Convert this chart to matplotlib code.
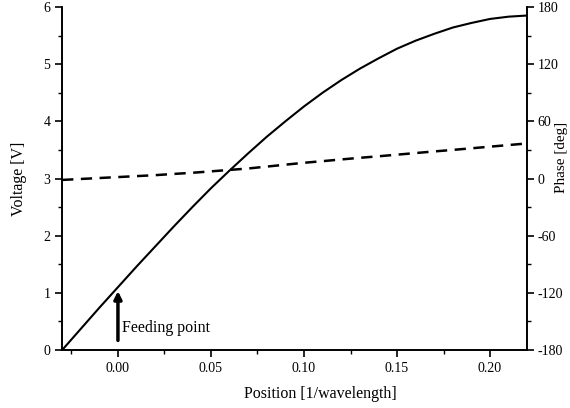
import matplotlib.pyplot as plt
from matplotlib.ticker import MultipleLocator

plt.rcParams['font.family'] = ['Liberation Serif', 'DejaVu Serif']
plt.rcParams['axes.unicode_minus'] = False

# position along the antenna [1/wavelength]
position = [-0.03, -0.02, -0.01, 0.00, 0.01, 0.02, 0.03, 0.04, 0.05, 0.06,
            0.07, 0.08, 0.09, 0.10, 0.11, 0.12, 0.13, 0.14, 0.15, 0.16,
            0.17, 0.18, 0.19, 0.20, 0.21, 0.22]
voltage = [0.0, 0.37, 0.74, 1.10, 1.46, 1.81, 2.16, 2.50, 2.83, 3.14,
           3.44, 3.73, 4.00, 4.26, 4.50, 4.72, 4.92, 5.10, 5.27, 5.41,
           5.53, 5.64, 5.72, 5.79, 5.83, 5.85]
phase = [-1.5, -0.5, 0.5, 1.5, 2.5, 3.5, 4.8, 6.0, 7.5, 9.0,
         10.5, 12.5, 14.5, 16.5, 18.2, 20.0, 21.7, 23.3, 25.0, 26.7,
         28.4, 30.0, 31.7, 33.4, 35.1, 36.8]

fig = plt.figure(figsize=(5.7, 4.08), dpi=100)
ax = fig.add_axes([0.109, 0.142, 0.816, 0.841])
ax2 = ax.twinx()

ax.plot(position, voltage, color='black', lw=1.5)
ax2.plot(position, phase, color='black', lw=1.8, dashes=(4.5, 3))

ax.set_xlim(-0.03, 0.22)
ax.set_ylim(0, 6)
ax2.set_ylim(-180, 180)

ax.xaxis.set_major_locator(MultipleLocator(0.05))
ax.xaxis.set_minor_locator(MultipleLocator(0.025))
ax.yaxis.set_major_locator(MultipleLocator(1))
ax.yaxis.set_minor_locator(MultipleLocator(0.5))
ax2.yaxis.set_major_locator(MultipleLocator(60))
ax2.yaxis.set_minor_locator(MultipleLocator(30))
ax.xaxis.set_major_formatter(plt.FormatStrFormatter('%.2f'))

for a in (ax, ax2):
    a.spines['top'].set_visible(False)
    for s in a.spines.values():
        s.set_linewidth(1.2)
    a.tick_params(which='major', direction='out', length=5, width=1.2, labelsize=10)
    a.tick_params(which='minor', direction='out', length=3, width=1.0)
ax2.tick_params(which='major', pad=2.5)

ax.set_xlabel('Position [1/wavelength]', fontsize=11.5)
ax.xaxis.set_label_coords(0.555, -0.105)
ax.set_ylabel('Voltage [V]', fontsize=11.5, labelpad=12)
ax2.set_ylabel('Phase [deg]', fontsize=11)
ax2.yaxis.set_label_coords(1.059, 0.56)

ax.annotate('', xy=(0.0, 1.08), xytext=(0.0, 0.12),
            arrowprops=dict(arrowstyle='-|>', lw=2.5, color='black', mutation_scale=11))
ax.text(0.002, 0.38, 'Feeding point', fontsize=11.5, va='center', ha='left')

fig.savefig('out.png', dpi=100)
